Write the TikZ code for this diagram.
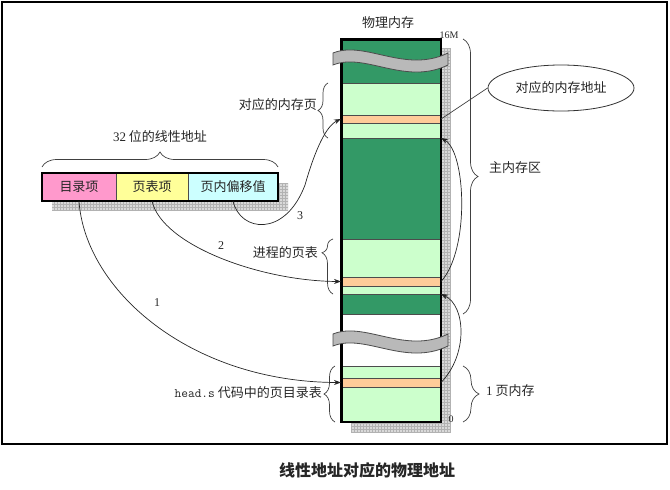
\documentclass[tikz,border=0pt]{standalone}
\usepackage{fontspec}
\setmainfont{Liberation Serif}
\newfontfamily\cjk{Noto Sans CJK SC}
\usepackage{tikz}
\usetikzlibrary{positioning,arrows.meta,shapes.geometric,decorations.pathreplacing}
\usepackage{xcolor}
\definecolor{dkgreen}{HTML}{339966}
\definecolor{ltgreen}{HTML}{CCFFCC}
\definecolor{peach}{HTML}{FFCC99}
\definecolor{pinkc}{HTML}{FF99CC}
\definecolor{yellowc}{HTML}{FFFF99}
\definecolor{cyanc}{HTML}{CCFFFF}

\begin{document}
\begin{tikzpicture}[
    x=1pt, y=-1pt,
    every node/.style={font=\cjk\fontsize{13}{15}\selectfont, text=black!85, inner sep=0pt},
    band/.style={draw=black!70, line width=0.6pt, minimum width=100pt, minimum height=#1, inner sep=0pt, outer sep=0pt},
    cell/.style={draw=black!70, line width=0.6pt, minimum width=#1, minimum height=28pt, inner sep=0pt, outer sep=0pt},
    wave/.style={fill=gray!55, draw=black!70, line width=0.8pt},
    memrange/.style={decorate, decoration={brace, amplitude=#1}, draw=black!75, line width=0.7pt},
    link/.style={-{Stealth[length=7pt, width=5pt]}, black!85, line width=0.7pt},
    num/.style={font=\rmfamily\fontsize{12}{14}\selectfont}
]
    \useasboundingbox (0,0) rectangle (670,490);

    % Outer frame
    \draw[line width=2pt] (2,2) rectangle (667,444);

    % Grid shadows (memory column, linear address)
    \foreach \sx/\sy/\ex/\ey in {351/48/451/432, 52/183/288/211} {
        \begin{scope}
            \clip (\sx,\sy) rectangle (\ex,\ey);
            \fill[gray!30] (\sx,\sy) rectangle (\ex,\ey);
            \draw[gray!60, line width=0.3pt, step=3pt] (\sx,\ey) grid (\ex,\sy);
        \end{scope}
    }

    % Physical memory column, stacked from 16M down to 0
    \node[band=44pt, fill=dkgreen, anchor=north] (memtop) at (391,39) {};
    \node[band=32pt, fill=ltgreen, below=0pt of memtop] (pgA) {};
    \node[band=8pt, fill=peach, below=0pt of pgA] (addr) {};
    \node[band=15pt, fill=ltgreen, below=0pt of addr] (pgB) {};
    \node[band=101pt, fill=dkgreen, below=0pt of pgB] (mid) {};
    \node[band=38pt, fill=ltgreen, below=0pt of mid] (ptA) {};
    \node[band=9pt, fill=peach, below=0pt of ptA] (pte) {};
    \node[band=8pt, fill=ltgreen, below=0pt of pte] (ptB) {};
    \node[band=20pt, fill=dkgreen, below=0pt of ptB] (dg) {};
    \node[band=52pt, fill=white, below=0pt of dg] (gap) {};
    \node[band=12pt, fill=ltgreen, below=0pt of gap] (pdA) {};
    \node[band=9pt, fill=peach, below=0pt of pdA] (pde) {};
    \node[band=35pt, fill=ltgreen, below=0pt of pde] (pdB) {};

    \draw[line width=1.5pt] (memtop.north west) rectangle (pdB.south east);
    \draw[line width=3pt] (pdB.south west) -- (memtop.north west) -- (memtop.north east);

    % Break marks
    \foreach \dy in {0,281} {
        \filldraw[wave, shift={(0,\dy)}] (333,53) .. controls (365,40) and (405,74) .. (448,53)
            -- (448,65) .. controls (405,86) and (365,52) .. (333,65) -- cycle;
    }

    \node (title) at (388,23) {物理内存};
    \node[font=\rmfamily\fontsize{10}{11}\selectfont] (top16) at (449,35) {16M};
    \node[font=\rmfamily\fontsize{10}{11}\selectfont] (zero) at (451,419) {0};

    % 32-bit linear address
    \node[cell=74pt, fill=pinkc] (dir) at (79,187) {目录项};
    \node[cell=72pt, fill=yellowc, right=0pt of dir] (tbl) {页表项};
    \node[cell=90pt, fill=cyanc, right=0pt of tbl] (off) {页内偏移值};
    \draw[line width=2.5pt] (dir.north west) rectangle (off.south east);

    \draw[memrange=15] ([yshift=6pt]dir.north west) -- ([yshift=6pt]off.north east);
    \node (lbl32) at (160,137) {{\rmfamily 32} 位的线性地址};

    % Left braces
    \draw[memrange=10] ([xshift=-13pt]pgB.south west) -- ([xshift=-13pt]pgA.north west);
    \node[anchor=east] (lblpage) at (317,105) {对应的内存页};
    \draw[memrange=11, decoration={aspect=0.75}] ([xshift=-8pt]ptB.south west) -- ([xshift=-8pt]ptA.north west);
    \node[anchor=east] (lblpt) at (318,253) {进程的页表};
    \draw[memrange=11] ([xshift=-6pt]pdB.south west) -- ([xshift=-6pt]pdA.north west);
    \node[anchor=east] (lblpd) at (322,393) {{\ttfamily head.s} 代码中的页目录表};

    % Right braces
    \draw[memrange=15] ([xshift=22pt]memtop.north east) -- ([xshift=22pt]dg.south east);
    \node[anchor=west] (lblmain) at (489,168) {主内存区};
    \draw[memrange=16] ([xshift=22pt]pdA.north east) -- ([xshift=22pt]pdB.south east);
    \node[anchor=west] (lbl1pg) at (486,391) {{\rmfamily 1} 页内存};

    % Callout for the physical address
    \node[draw=black!80, ellipse, line width=0.8pt, minimum width=146pt, minimum height=46pt] (addrnote) at (561,88) {对应的内存地址};
    \draw[black!75, line width=0.7pt] (addrnote.west) -- (addr.east);

    % Translation steps
    \draw[link] (dir.south) .. controls (85,290) and (190,382) .. (pde.west);
    \node[num] (num1) at (157,303) {1};
    \draw[link] (tbl.south) .. controls (162,245) and (260,281) .. (pte.west);
    \node[num] (num2) at (221,246) {2};
    \draw[link] (off.south) .. controls (240,232) and (285,238) .. (305,185)
        .. controls (315,150) and (326,126) .. (addr.west);
    \node[num] (num3) at (300,216) {3};

    % Entries pointing to their pages
    \draw[link] (pte.east) .. controls (470,250) and (466,152) .. (mid.north east);
    \draw[link] (pde.east) .. controls (468,355) and (466,306) .. (dg.north east);

    % Caption
    \node[font=\cjk\bfseries\fontsize{16}{18}\selectfont] (caption) at (367,470) {线性地址对应的物理地址};
\end{tikzpicture}
\end{document}
